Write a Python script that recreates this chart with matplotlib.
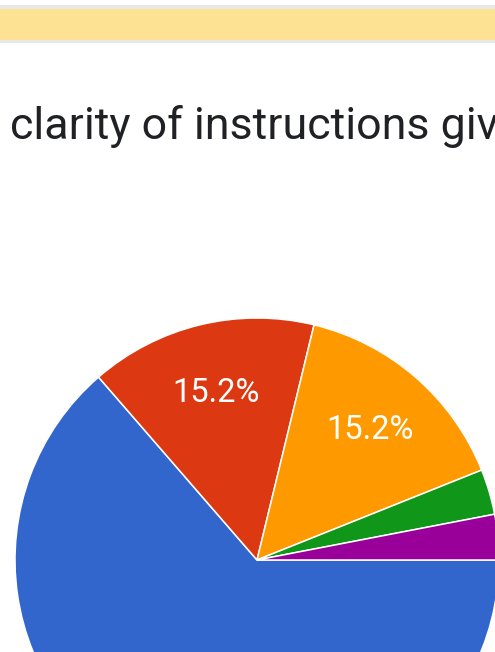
import matplotlib.pyplot as plt
from matplotlib.patches import Rectangle

# responses per answer (n = 33)
answers = ["Very clear", "Clear", "Neutral", "Unclear", "Very unclear"]
counts = [21, 5, 5, 1, 1]
colors = ["#3366CC", "#DC3912", "#FF9900", "#109618", "#990099"]
title = "clarity of instructions given"

plt.rcParams["font.family"] = ["Roboto", "DejaVu Sans"]

W, H = 495, 652
fig = plt.figure(figsize=(W / 100, H / 100), dpi=100)
ax = fig.add_axes([0, 0, 1, 1])
ax.set_xlim(0, W)
ax.set_ylim(H, 0)
ax.set_aspect("equal")
ax.axis("off")

# header strip of the card
ax.add_patch(Rectangle((0, 5), W, 38, facecolor="#E8E8E8", edgecolor="none"))
ax.add_patch(Rectangle((0, 9), W, 31, facecolor="#FDE293", edgecolor="none"))

ax.text(10, 139, title, fontsize=32.2, color="#202124", ha="left", va="baseline")


def pct_label(p):
    return "%.1f%%" % p if p > 5 else ""


# y axis is inverted, so counterclock=True draws clockwise on screen
wedges, texts, autotexts = ax.pie(
    counts, colors=colors, startangle=0, counterclock=True,
    center=(257, 560), radius=242, autopct=pct_label, pctdistance=0.71,
    wedgeprops=dict(edgecolor="white", linewidth=1.1),
    textprops=dict(color="white", fontsize=23.5),
)
# the big slice's label sits below the visible area
autotexts[0].set_visible(False)
ax.set_xlim(0, W)
ax.set_ylim(H, 0)

fig.savefig("out.png", dpi=100)
